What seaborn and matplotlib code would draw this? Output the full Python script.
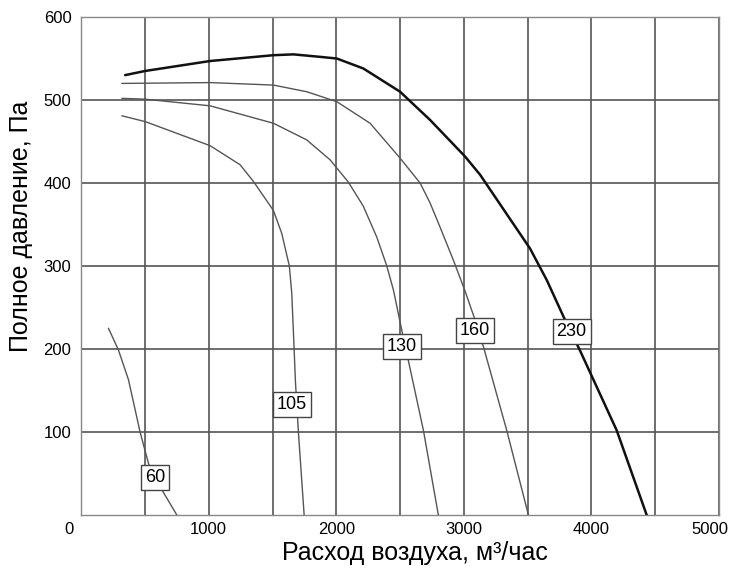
#!/usr/bin/env python3
"""
Fan performance curves: total pressure vs air flow
"""

import pandas as pd
import matplotlib
matplotlib.use('Agg')
import matplotlib.pyplot as plt
import matplotlib.transforms as mtransforms
import seaborn as sns

# Curve data (air flow m3/h, pressure Pa)
flow_60 = [214, 292, 371, 462, 528, 619, 750]
pres_60 = [225, 199, 163, 100, 62, 34, 0]

flow_105 = [319, 502, 1011, 1246, 1350, 1507, 1573, 1632, 1651, 1664, 1680, 1703, 1748]
pres_105 = [481, 474, 445, 422, 402, 367, 339, 300, 267, 220, 160, 100, 0]

flow_130 = [319, 502, 1011, 1507, 1768, 1951, 2095, 2212, 2317, 2396, 2448, 2513, 2683, 2800]
pres_130 = [502, 501, 493, 472, 452, 428, 401, 372, 335, 300, 271, 223, 102, 0]

flow_160 = [319, 1011, 1507, 1768, 2004, 2265, 2500, 2657, 2735, 2813, 2918, 3009,
            3088, 3153, 3336, 3506]
pres_160 = [520, 521, 518, 510, 498, 472, 430, 400, 376, 347, 307, 270,
            235, 203, 102, 0]

flow_230 = [345, 502, 1011, 1507, 1664, 1873, 2004, 2212, 2500, 2735, 3009, 3127,
            3519, 3650, 3793, 3911, 4198, 4433]
pres_230 = [530, 535, 547, 554, 555, 552, 550, 538, 510, 476, 432, 410,
            321, 283, 235, 198, 102, 0]

curve_names = ['60', '105', '130', '160', '230']
label_x = [580, 1654, 2515, 3088, 3845]
label_y = [45, 133, 203, 222, 221]

sns.set_style('white')
plt.rcParams['font.family'] = ['Liberation Sans', 'DejaVu Sans']
plt.rcParams['text.color'] = 'black'
plt.rcParams['axes.labelcolor'] = 'black'
plt.rcParams['xtick.color'] = 'black'
plt.rcParams['ytick.color'] = 'black'

fig = plt.figure(figsize=(7.31, 5.73), dpi=100)
ax = fig.add_axes([0.111, 0.1012, 0.8726, 0.8691])

curves = [(flow_60, pres_60), (flow_105, pres_105), (flow_130, pres_130),
          (flow_160, pres_160), (flow_230, pres_230)]
for name, (fx, py) in zip(curve_names, curves):
    df = pd.DataFrame({'flow': fx, 'pressure': py})
    thick = name == '230'
    sns.lineplot(data=df, x='flow', y='pressure', ax=ax, sort=False,
                 color='#111111' if thick else '#555555',
                 linewidth=1.8 if thick else 1.0, zorder=3)

for name, lx, ly in zip(curve_names, label_x, label_y):
    ax.text(lx, ly, name, ha='center', va='center', fontsize=13, zorder=5,
            bbox=dict(boxstyle='square,pad=0.22', fc='white', ec='#444444', lw=1.0))

ax.set_xlim(0, 5000)
ax.set_ylim(0, 600)
ax.set_xticks([0, 1000, 2000, 3000, 4000, 5000])
ax.set_xticks(range(0, 5001, 500), minor=True)
ax.set_yticks([100, 200, 300, 400, 500, 600])
ax.grid(True, which='both', color='#555555', linewidth=1.2)
ax.tick_params(axis='both', which='both', length=0, labelsize=12, pad=5)
ax.tick_params(axis='y', pad=7)
for s in ax.spines.values():
    s.set_color('#888888')
    s.set_linewidth(1.0)

# nudge the end labels of the x axis like in the original
xl = ax.get_xticklabels()
xl[0].set_transform(xl[0].get_transform() + mtransforms.ScaledTranslation(-0.12, 0, fig.dpi_scale_trans))
xl[-1].set_transform(xl[-1].get_transform() + mtransforms.ScaledTranslation(-0.09, 0, fig.dpi_scale_trans))

ax.set_xlabel('Расход воздуха, м³/час', fontsize=18)
ax.set_ylabel('Полное давление, Па', fontsize=18)
ax.xaxis.set_label_coords(0.524, -0.052)
ax.yaxis.set_label_coords(-0.075, 0.58)

plt.savefig('out.png', dpi=100)
plt.close()
